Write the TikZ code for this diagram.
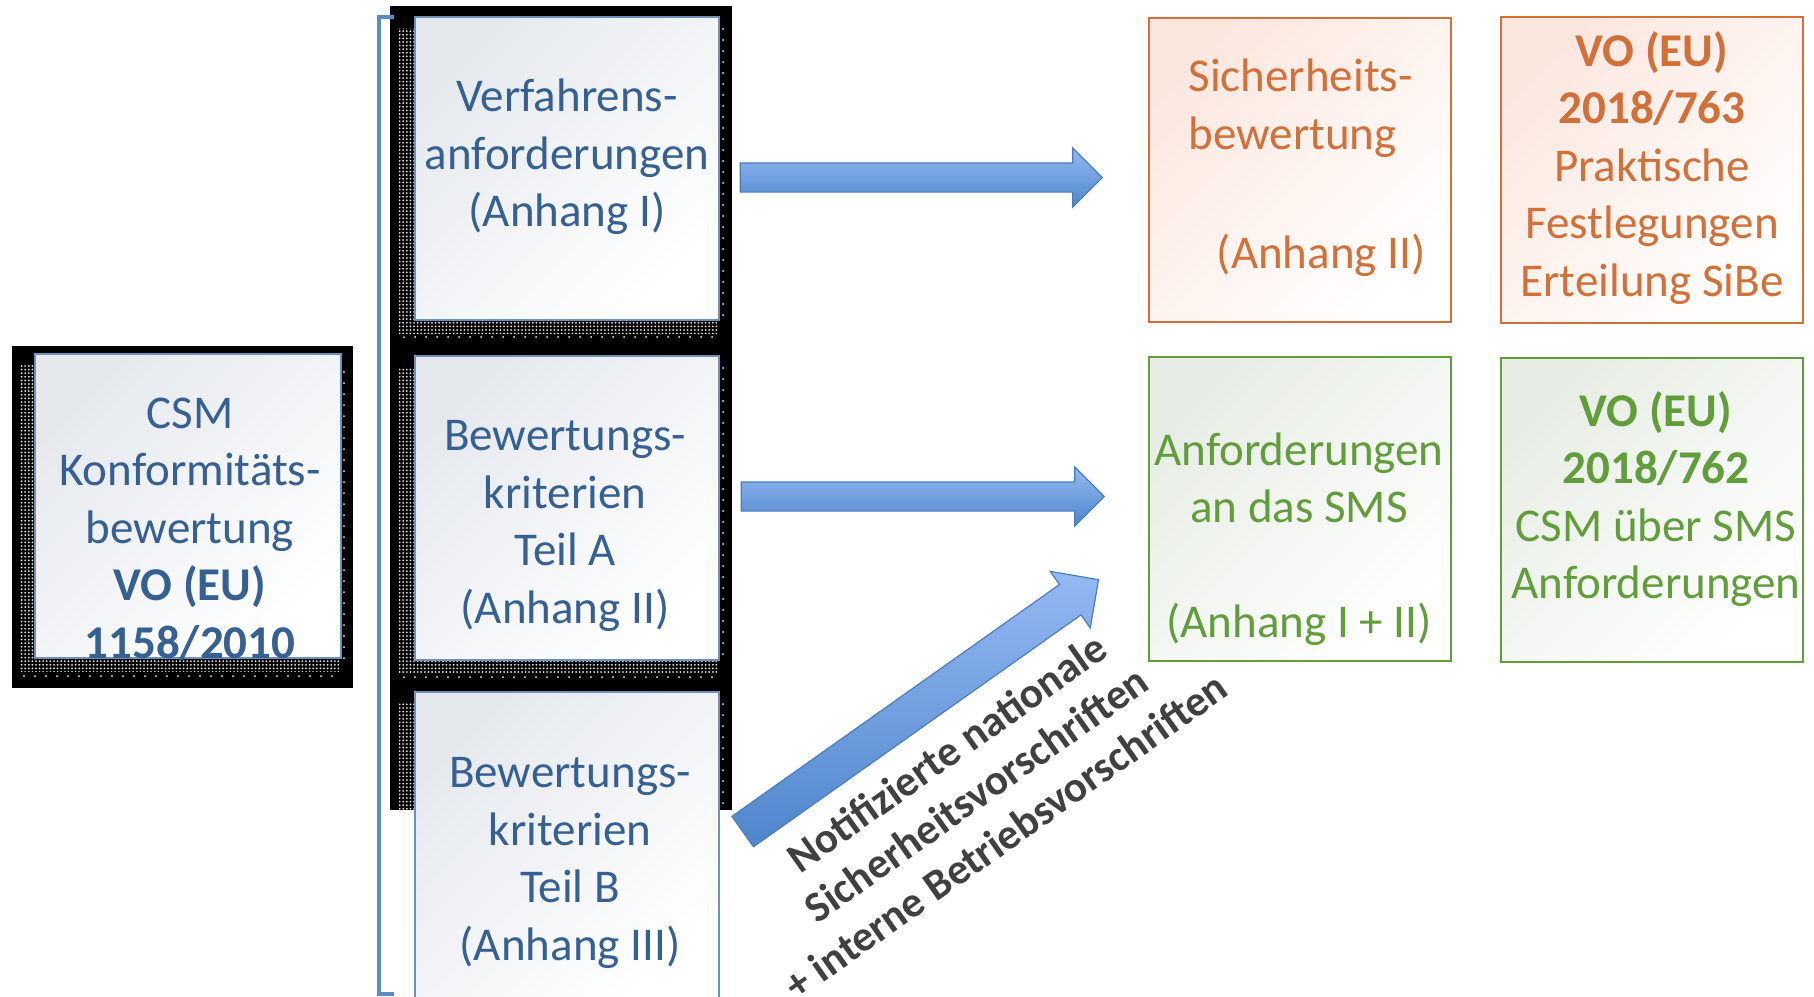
\documentclass[tikz,border=0pt]{standalone}
\usepackage{fontspec}
\setmainfont{Carlito}
\usetikzlibrary{shapes.arrows,patterns.meta}
\definecolor{csmblue}{HTML}{376092}
\definecolor{boxline}{HTML}{6F90B8}
\definecolor{bluetint}{HTML}{E5E9EE}
\definecolor{sibeorange}{HTML}{D2703A}
\definecolor{orangetint}{HTML}{FCE7DF}
\definecolor{smsgreen}{HTML}{629D3C}
\definecolor{greentint}{HTML}{E7EDE4}
\definecolor{arrlight}{HTML}{94B9F3}
\definecolor{arrdark}{HTML}{4F85CC}
\definecolor{arrline}{HTML}{4A7EBB}
\definecolor{notegray}{HTML}{404040}
\newcommand\boxfont{\fontsize{47}{57.5}\selectfont}
\newcommand\notefont{\fontsize{43}{51}\selectfont\bfseries}

\begin{document}
\begin{tikzpicture}[x=1pt,y=-1pt,
 blubox/.style={rectangle,draw=boxline,line width=1.3pt,top color=bluetint,bottom color=white,shading angle=45,minimum width=304,inner sep=0},
 orabox/.style={rectangle,draw=sibeorange,line width=2pt,top color=orangetint,bottom color=white,shading angle=45,minimum width=302,minimum height=304,inner sep=0},
 grnbox/.style={rectangle,draw=smsgreen,line width=2pt,top color=greentint,bottom color=white,shading angle=45,minimum width=302,minimum height=304,inner sep=0},
 blutxt/.style={text=csmblue,font=\boxfont,align=center},
 oratxt/.style={text=sibeorange,font=\boxfont,align=center},
 grntxt/.style={text=smsgreen,font=\boxfont,align=center},
 notetxt/.style={text=notegray,font=\notefont,align=center},
 bigarrow/.style={single arrow,draw=arrline,line width=1.2pt,top color=arrlight,bottom color=arrdark,inner sep=0,single arrow head extend=15pt},
 dotshade/.style={pattern={Dots[distance=3.6pt,radius=1pt]},pattern color=white!90!black},
 sparsedots/.style={draw=white!90!black,line width=2pt,line cap=round,dash pattern=on 0pt off 11pt},
 bracket/.style={draw=arrline!90!white,line width=3.5pt}]
\useasboundingbox (0,0) rectangle (1814,996);
\clip (0,0) rectangle (1814,996);
% black panels with dotted shadows
\fill[black] (12,346) rectangle (353,688);
\fill[black] (390,6) rectangle (732,810);
\begin{scope}
\clip (12,346) rectangle (353,688);
\fill[dotshade] (19,365) rectangle (339,671);
\draw[sparsedots] (24,676) -- (340,676);
\draw[sparsedots] (344,372) -- (344,660);
\end{scope}
\begin{scope}
\clip (390,6) rectangle (732,810);
\foreach \y/\h in {168.5/303,508/304,846/308}{
  \fill[dotshade] (399,{\y-\h/2+11}) rectangle (717,{\y+\h/2+13});
  \draw[sparsedots] (404,{\y+\h/2+17}) -- (718,{\y+\h/2+17});
  \draw[sparsedots] (723,{\y-\h/2+12}) -- (723,{\y+\h/2});
}
\end{scope}
\draw[bracket] (394,17) -| (379,994) -- (394,994);
% blue boxes
\node[blubox,minimum width=306,minimum height=304] (csm) at (188,506) {};
\foreach \n/\y/\h in {verf/168.5/303,tlA/508/304,tlB/846/308}
  \node[blubox,minimum height=\h] (\n) at (567,\y) {};
\node[blutxt] (csmT) at (190,529) {CSM\\Konformitäts-\\bewertung\\\textbf{VO (EU)}\\\textbf{1158/2010}};
\node[blutxt] (verfT) at (567,157) {Verfahrens-\\anforderungen\\(Anhang I)};
\node[blutxt] (tlAT) at (565,526) {Bewertungs-\\kriterien\\Teil A\\(Anhang II)};
\node[blutxt] (tlBT) at (570,863) {Bewertungs-\\kriterien\\Teil B\\(Anhang III)};
% right boxes
\node[orabox] (sibe) at (1299.5,169.5) {};
\node[orabox,minimum height=306] (vo763) at (1651.5,170) {};
\node[grnbox] (sms) at (1299.5,509) {};
\node[grnbox] (vo762) at (1651.5,509.5) {};
\node[oratxt,align=left,anchor=west] (sibeT) at (1185,108) {Sicherheits-\\bewertung};
\node[oratxt,anchor=east] (sibeA) at (1429,255) {(Anhang II)};
\node[oratxt] (vo763T) at (1652,168) {\textbf{VO (EU)}\\\textbf{2018/763}\\Praktische\\Festlegungen\\Erteilung SiBe};
\node[grntxt] (smsT) at (1299,478) {Anforderungen\\an das SMS};
\node[grntxt] (smsA) at (1299,624) {(Anhang I + II)};
\node[grntxt] (vo762T) at (1656,499) {\textbf{VO (EU)}\\\textbf{2018/762}\\CSM über SMS\\Anforderungen};
% arrows
\node[bigarrow,minimum height=362,text height=14pt,text depth=14pt] (a1) at (914,177.5) {};
\node[bigarrow,minimum height=363,text height=14pt,text depth=14pt] (a2) at (915.5,496.5) {};
\node[bigarrow,minimum height=436,text height=18pt,text depth=18pt,single arrow head extend=16pt,rotate=35.3] (a3) at (913,711) {};
\node[notetxt,rotate=35.3] (notif) at (976,794) {Notifizierte nationale\\Sicherheitsvorschriften\\+ interne Betriebsvorschriften};
\end{tikzpicture}
\end{document}
